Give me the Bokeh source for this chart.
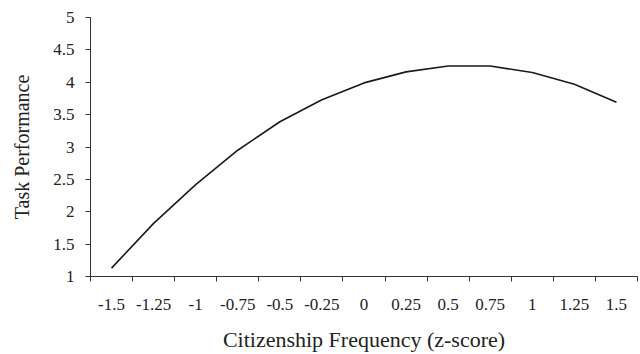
from bokeh.plotting import figure
from bokeh.models import FixedTicker, Range1d, LinearAxis
from bokeh.embed import file_html
from bokeh.resources import INLINE

x_labels = ["-1.5", "-1.25", "-1", "-0.75", "-0.5", "-0.25", "0", "0.25", "0.5", "0.75", "1", "1.25", "1.5"]
performance = [1.13, 1.82, 2.42, 2.95, 3.39, 3.73, 3.99, 4.16, 4.25, 4.25, 4.15, 3.97, 3.69]
y_ticks = [1, 1.5, 2, 2.5, 3, 3.5, 4, 4.5, 5]
y_labels = ["1", "1.5", "2", "2.5", "3", "3.5", "4", "4.5", "5"]

idx = list(range(len(x_labels)))

p = figure(width=640, height=354, output_backend="svg", toolbar_location=None,
           x_range=Range1d(-0.5, len(x_labels) - 0.5), y_range=Range1d(1, 5),
           x_axis_location=None, y_axis_location=None,
           min_border_left=90, min_border_right=3, min_border_top=17, min_border_bottom=10)
p.outline_line_color = None
p.xgrid.visible = False
p.ygrid.visible = False
p.background_fill_color = "white"
p.border_fill_color = "white"

p.line(idx, performance, line_color="#1a1a1a", line_width=1.6)

font = "Liberation Serif"

xa = LinearAxis()
xa.ticker = FixedTicker(ticks=idx, minor_ticks=[i - 0.5 for i in range(len(x_labels) + 1)])
xa.major_label_overrides = {i: lab for i, lab in zip(idx, x_labels)}
xa.major_tick_line_color = None
xa.minor_tick_in = 0
xa.minor_tick_out = 5
xa.minor_tick_line_color = "#333333"
xa.axis_line_color = "#333333"
xa.major_label_standoff = 16
xa.major_label_text_font = font
xa.major_label_text_font_size = "17px"
xa.major_label_text_color = "#222222"
xa.axis_label = "Citizenship Frequency (z-score)"
xa.axis_label_text_font = font
xa.axis_label_text_font_size = "22px"
xa.axis_label_text_font_style = "normal"
xa.axis_label_text_color = "#222222"
xa.axis_label_standoff = 14
p.add_layout(xa, "below")

ya = LinearAxis()
ya.ticker = FixedTicker(ticks=y_ticks)
ya.major_label_overrides = {t: lab for t, lab in zip(y_ticks, y_labels)}
ya.major_tick_in = 0
ya.major_tick_out = 5
ya.minor_tick_line_color = None
ya.major_tick_line_color = "#333333"
ya.axis_line_color = "#333333"
ya.major_label_standoff = 11
ya.major_label_text_font = font
ya.major_label_text_font_size = "17px"
ya.major_label_text_color = "#222222"
ya.axis_label = "Task Performance"
ya.axis_label_text_font = font
ya.axis_label_text_font_size = "20px"
ya.axis_label_text_font_style = "normal"
ya.axis_label_text_color = "#222222"
ya.axis_label_standoff = 17
p.add_layout(ya, "left")

open("out.html", "w").write(file_html(p, INLINE))
